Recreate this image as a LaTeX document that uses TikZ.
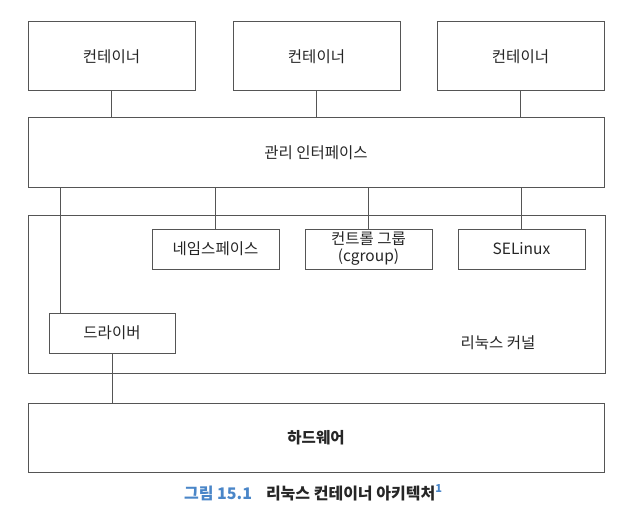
\documentclass[tikz,border=0pt]{standalone}
\usepackage{fontspec}
\setmainfont{Noto Sans CJK KR}
\usetikzlibrary{positioning}
\definecolor{linegray}{HTML}{555555}
\definecolor{capblue}{HTML}{4A86C8}
\tikzstyle{box} = [rectangle, draw=linegray, line width=1pt, text=black!85, text centered, inner sep=0pt, font=\fontsize{15.5}{17}\selectfont]
\tikzstyle{container} = [box, minimum width=167pt, minimum height=69pt]
\tikzstyle{layer} = [box, minimum width=576pt, minimum height=70pt]
\tikzstyle{module} = [box, minimum width=127pt, minimum height=40pt, align=center]
\tikzstyle{link} = [linegray, line width=1pt]

\begin{document}
\begin{tikzpicture}[x=1pt, y=-1pt]
	\useasboundingbox (0,0) rectangle (628,529);

	\node (c1) [container] at (111.5,56.5) {컨테이너};
	\node (c2) [container, right=37pt of c1] {컨테이너};
	\node (c3) [container, right=36pt of c2] {컨테이너};
	\node (mgmt) [layer] at (316,153) {관리 인터페이스};
	\node (kernel) [layer, minimum width=577pt, minimum height=158pt] at (316.5,294) {};
	\node (ns) [module] at (215.5,249) {네임스페이스};
	\node (cg) [module, right=25pt of ns] {컨트롤 그룹\\(cgroup)};
	\node (se) [module, right=25pt of cg] {SELinux};
	\node (drv) [module, minimum width=126pt] at (112,333) {드라이버};
	\node (klabel) [font=\fontsize{15.5}{17}\selectfont, text=black!85] at (498,343) {리눅스 커널};
	\node (hw) [layer, minimum height=69pt, font=\fontsize{15.5}{17}\selectfont\bfseries] at (316,437.5) {하드웨어};

	\draw [link] (c1) -- (c1 |- mgmt.north);
	\draw [link] (c2) -- (c2 |- mgmt.north);
	\draw [link] (c3) -- (c3 |- mgmt.north);
	\draw [link] (ns) -- (ns |- mgmt.south);
	\draw [link] (cg) -- (cg |- mgmt.south);
	\draw [link] (se) -- (se |- mgmt.south);
	\draw [link] ([xshift=12pt]drv.north west) -- ([xshift=12pt]drv.north west |- mgmt.south);
	\draw [link] (drv.south) -- (drv |- hw.north);

	\node (caption) [font=\fontsize{16}{18}\selectfont] at (313,493) {{\color{capblue}\bfseries 그림 15.1}\hspace{14pt}{\bfseries\color{black!85} 리눅스 컨테이너 아키텍처}\raisebox{7pt}{\fontsize{11}{11}\selectfont\bfseries\color{capblue}1}};
\end{tikzpicture}
\end{document}
